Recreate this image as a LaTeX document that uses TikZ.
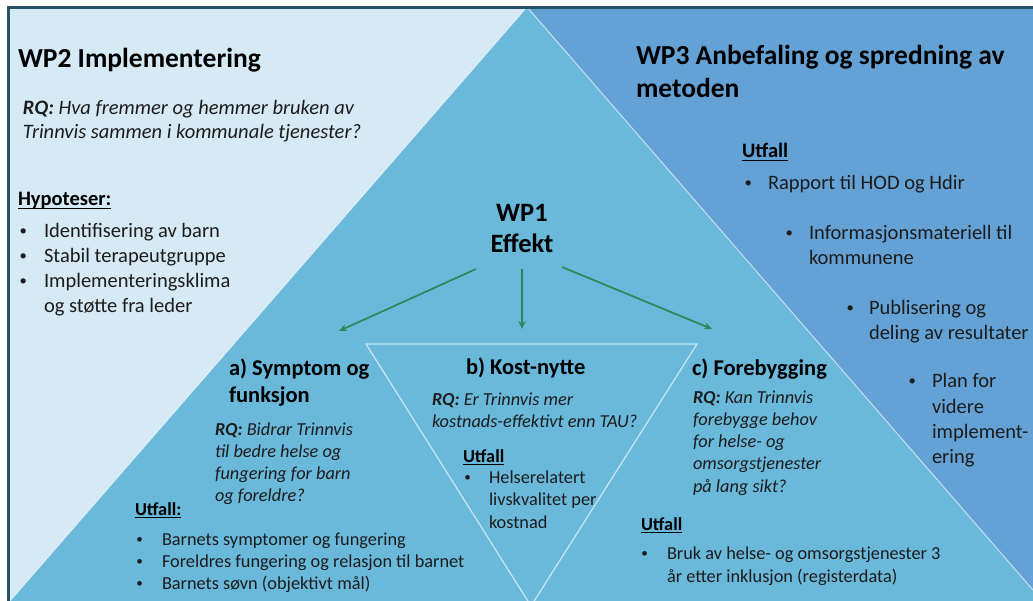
\documentclass[tikz,border=0pt]{standalone}
\usepackage{fontspec}
\usepackage{graphicx}
\setmainfont{Carlito}
\usetikzlibrary{arrows.meta}

\definecolor{paneLight}{RGB}{213,234,245}
\definecolor{paneMid}{RGB}{106,184,218}
\definecolor{paneDark}{RGB}{100,162,214}
\definecolor{frameLine}{RGB}{38,82,104}
\definecolor{arrowGreen}{RGB}{46,135,88}
\definecolor{innerLine}{RGB}{196,228,241}
\definecolor{bodyText}{RGB}{28,28,28}

% stacked lines, baseline at the first line
\newcommand\stk[1]{\begin{tabular}[t]{@{}l@{}}#1\end{tabular}}
\newcommand\stkc[1]{\begin{tabular}[t]{@{}c@{}}#1\end{tabular}}
% bullet list: first column holds the bullet, second the item text
\newcommand\blist[1]{\begin{tabular}[t]{@{}l@{}l@{}}#1\end{tabular}}
\newcommand\bl[1]{\makebox[#1][l]{\hspace{0.08em}\raisebox{0.1em}{\scalebox{0.72}{\textbullet}}}}
% underline drawn as a rule under the word
\newcommand\undl[1]{\setbox0=\hbox{#1}\rlap{\rule[-0.15em]{\wd0}{0.065em}}\box0}

\tikzset{
  lbl/.style={anchor=base west, inner sep=0pt, outer sep=0pt},
  title/.style={lbl, font=\fontsize{27.5}{33}\selectfont\bfseries, text=black},
  head/.style={lbl, font=\fontsize{22.5}{26}\selectfont\bfseries, text=black},
  body/.style={lbl, font=\fontsize{20.5}{24.7}\selectfont, text=bodyText},
  bodyrq/.style={lbl, font=\fontsize{20.5}{24}\selectfont\itshape, text=bodyText},
  small/.style={lbl, font=\fontsize{18.3}{22.5}\selectfont, text=bodyText},
  smallrq/.style={lbl, font=\fontsize{18.3}{22.3}\selectfont\itshape, text=bodyText},
  flow/.style={draw=arrowGreen, line width=1.7pt, -{Stealth[length=8pt,width=7pt]}}
}

\begin{document}
\begin{tikzpicture}[x=1pt, y=-1pt]
\useasboundingbox (0,0) rectangle (1033,601);
\clip (0,0) rectangle (1033,601);

% background panels
\fill[white] (0,0) rectangle (1033,601);
\fill[paneLight] (8,7) rectangle (1033,601);
\fill[paneMid] (527,7) -- (10,601) -- (1033,601) -- (1033,590) -- cycle;
\fill[paneDark] (527,7) -- (1033,7) -- (1033,590) -- cycle;
\draw[white, opacity=0.6, line width=1pt] (10,601) -- (527,7) -- (1033,590);

% inverted inner triangle
\draw[innerLine, line width=1.3pt] (366,344) -- (697,344) -- (531,606) -- cycle;

% frame along top and left
\draw[frameLine, line width=2.4pt] (8.5,601) -- (8.5,7.5) -- (1033,7.5);

% WP2
\node[title] (wp2title) at (18,68) {WP2 Implementering};
\node[bodyrq] (wp2rq) at (23,115) {\stk{\textbf{RQ:} Hva fremmer og hemmer bruken av\\Trinnvis sammen i kommunale tjenester?}};
\node[body, font=\fontsize{20.5}{24.7}\selectfont\bfseries, text=black] (wp2hyp) at (18,206) {\undl{Hypoteser:}};
\node[body] (wp2list) at (18,238) {\blist{\bl{26pt} & Identifisering av barn\\
  \bl{26pt} & Stabil terapeutgruppe\\
  \bl{26pt} & Implementeringsklima\\
   & og støtte fra leder}};

% WP3
\node[title, font=\fontsize{27.5}{33}\selectfont\bfseries] (wp3title) at (636,65) {\stk{WP3 Anbefaling og spredning av\\metoden}};
\node[body, font=\fontsize{20.5}{24.7}\selectfont\bfseries, text=black] (wp3utf) at (742,158) {\undl{Utfall}};
\node[body] (wp3b1) at (743,190) {\blist{\bl{25pt} & Rapport til HOD og Hdir}};
\node[body] (wp3b2) at (784,240) {\blist{\bl{25pt} & Informasjonsmateriell til\\ & kommunene}};
\node[body] (wp3b3) at (845,315) {\blist{\bl{24pt} & Publisering og\\ & deling av resultater}};
\node[body, font=\fontsize{20.5}{25.3}\selectfont] (wp3b4) at (907,388) {\blist{\bl{25pt} & Plan for\\ & videre\\ & implement-\\ & ering}};

% WP1
\node[lbl, anchor=base, font=\fontsize{26.5}{31}\selectfont\bfseries, text=black] (wp1) at (522,222) {\stkc{WP1\\Effekt}};

\coordinate (aFrom) at (476,269);
\coordinate (aTo) at (339,331);
\coordinate (bFrom) at (522,269);
\coordinate (bTo) at (522,329);
\coordinate (cFrom) at (562,267);
\coordinate (cTo) at (712,329);
\draw[flow] (aFrom) -- (aTo);
\draw[flow] (bFrom) -- (bTo);
\draw[flow] (cFrom) -- (cTo);

% a) Symptom og funksjon
\node[head] (ahead) at (229,376) {\stk{a) Symptom og\\funksjon}};
\node[smallrq] (arq) at (215,435) {\stk{\textbf{RQ:} Bidrar Trinnvis\\til bedre helse og\\fungering for barn\\og foreldre?}};
\node[small, font=\fontsize{18.3}{22}\selectfont\bfseries, text=black] (autf) at (135,515) {\undl{Utfall:}};
\node[small, font=\fontsize{18.3}{22}\selectfont] (alist) at (135,545) {\blist{\bl{27pt} & Barnets symptomer og fungering\\
  \bl{27pt} & Foreldres fungering og relasjon til barnet\\
  \bl{27pt} & Barnets søvn (objektivt mål)}};

% b) Kost-nytte
\node[head] (bhead) at (466,374) {b) Kost-nytte};
\node[smallrq, font=\fontsize{18.3}{22}\selectfont\itshape] (brq) at (432,405) {\stk{\textbf{RQ:} Er Trinnvis mer\\kostnads-effektivt enn TAU?}};
\node[small, font=\fontsize{18.3}{22}\selectfont\bfseries, text=black] (butf) at (463,462) {\undl{Utfall}};
\node[small] (blist) at (463,483) {\blist{\bl{26pt} & Helserelatert\\ & livskvalitet per\\ & kostnad}};

% c) Forebygging
\node[head] (chead) at (692,375) {c) Forebygging};
\node[smallrq] (crq) at (693,403) {\stk{\textbf{RQ:} Kan Trinnvis\\forebygge behov\\for helse- og\\omsorgstjenester\\på lang sikt?}};
\node[small, font=\fontsize{18.3}{22}\selectfont\bfseries, text=black] (cutf) at (641,530) {\undl{Utfall}};
\node[small, font=\fontsize{18.3}{23}\selectfont] (clist) at (640,559) {\blist{\bl{27pt} & Bruk av helse- og omsorgstjenester 3\\ & år etter inklusjon (registerdata)}};
\end{tikzpicture}
\end{document}
